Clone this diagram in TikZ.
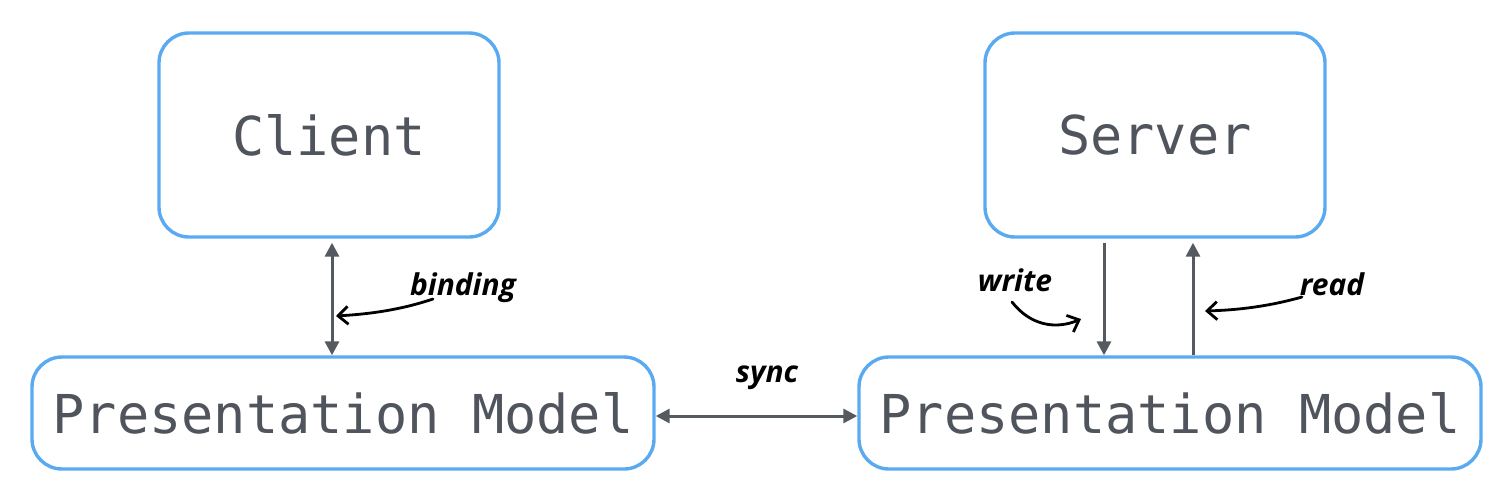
\documentclass[tikz,border=0pt]{standalone}
\usepackage{fontspec}
\setmonofont{DejaVu Sans Mono}
\newfontfamily\handfont{Open Sans}
\usetikzlibrary{arrows.meta}
\definecolor{boxblue}{HTML}{5AAAF2}
\definecolor{txtgray}{HTML}{50545C}
\definecolor{arrgray}{HTML}{555A61}
\tikzset{
  box/.style={draw=boxblue, line width=1.7pt, rounded corners=15pt, inner sep=0pt, text=txtgray, font=\ttfamily\fontsize{26.8}{30}\selectfont},
  conn/.style={draw=arrgray, line width=1.5pt, arrows={-Triangle[length=7pt,width=7pt]}},
  conn2/.style={draw=arrgray, line width=1.5pt, arrows={Triangle[length=7pt,width=7pt]-Triangle[length=7pt,width=7pt]}},
  hand/.style={font=\handfont\bfseries\itshape\fontsize{15}{17}\selectfont, text=black, inner sep=1pt},
  pointer/.style={draw=black, line width=1.4pt, line cap=round, arrows={-{Straight Barb[length=5pt,width=9pt]}}},
}
\begin{document}
\begin{tikzpicture}[x=0.5pt,y=-0.5pt]
\useasboundingbox (0,0) rectangle (1496,494);
\node[box, minimum width=170pt, minimum height=102pt] (client) at (329,135) {Client};
\node[box, minimum width=170pt, minimum height=102pt] (server) at (1155,135) {Server};
\node[box, minimum width=311pt, minimum height=56pt] (pml) at (343,413) {Presentation Model};
\node[box, minimum width=311pt, minimum height=56pt] (pmr) at (1170,413) {Presentation Model};
\coordinate (bx) at (332,0);
\coordinate (wx) at (1104,0);
\coordinate (rx) at (1193,0);
\coordinate (sy) at (0,416);
\draw[conn2] ([yshift=-2pt]client.south -| bx) -- (pml.north -| bx);
\draw[conn] ([yshift=-2pt]server.south -| wx) -- (pmr.north -| wx);
\draw[conn] (pmr.north -| rx) -- ([yshift=-2pt]server.south -| rx);
\draw[conn2] (pml.east |- sy) -- (pmr.west |- sy);
\node[hand] (binding) at (463,288) {binding};
\node[hand] (write) at (1015,280) {write};
\node[hand] (read) at (1332,284) {read};
\node[hand] (sync) at (767,378) {sync};
\coordinate (bp) at (336,316);
\coordinate (wp) at (1081,319);
\coordinate (rp) at (1205,311);
\draw[pointer] (433,299) .. controls (400,310) and (370,314) .. (bp);
\draw[pointer] (1012,302) .. controls (1030,325) and (1055,330) .. (wp);
\draw[pointer] (1302,297) .. controls (1270,306) and (1240,310) .. (rp);
\end{tikzpicture}
\end{document}
